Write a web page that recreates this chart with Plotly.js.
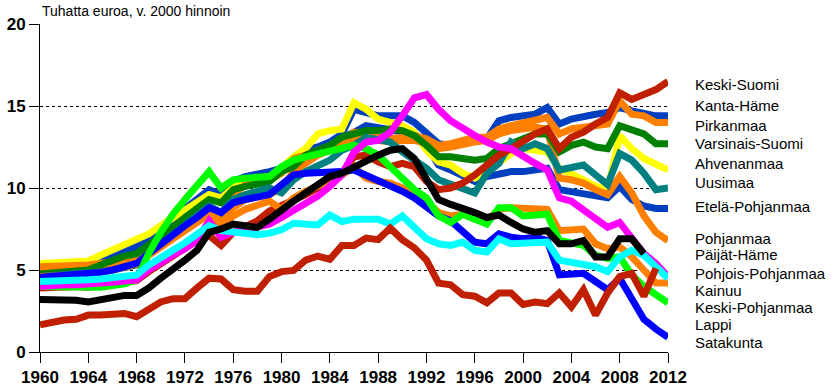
<!DOCTYPE html>
<html>
<head>
<meta charset="utf-8">
<script src="https://cdn.plot.ly/plotly-3.0.1.min.js"></script>
<style>html,body{margin:0;padding:0;background:#fff;}#chart{width:840px;height:388px;}</style>
</head>
<body>
<div id="chart"></div>
<script>
const years = [1960,1961,1962,1963,1964,1965,1966,1967,1968,1969,1970,1971,1972,1973,1974,1975,1976,1977,1978,1979,1980,1981,1982,1983,1984,1985,1986,1987,1988,1989,1990,1991,1992,1993,1994,1995,1996,1997,1998,1999,2000,2001,2002,2003,2004,2005,2006,2007,2008,2009,2010,2011,2012];

const kantaHame = [4.95,5.0,5.05,5.1,5.2,5.5,5.8,6.1,6.5,7.0, 7.6,8.1,8.7,9.3,9.9,9.6,10.4,10.7,10.8,11.0, 11.2,11.8,12.3,12.5,12.8,13.3,14.8,14.6,14.4,14.4, 14.4,14.0,13.3,12.7,12.6,12.8,12.9,13.0,14.1,14.3, 14.4,14.5,14.9,13.9,14.2,14.4,14.5,14.6,14.9,14.7, 14.5,14.4,14.4];
const etelaPohjanmaa = [4.85,4.9,4.95,5.0,5.1,5.4,5.7,6.0,6.4,6.9, 7.5,8.0,8.6,9.2,9.8,9.5,10.3,10.6,10.7,10.9, 11.1,11.6,12.2,12.4,12.7,13.1,13.4,13.8,13.7,13.6, 13.4,13.3,12.6,11.4,11.1,10.8,10.4,10.7,10.9,11.0, 11.0,11.1,11.2,9.9,9.8,9.7,9.5,9.4,10.1,9.3, 8.9,8.75,8.75];
const ahvenanmaa = [5.4,5.45,5.5,5.5,5.55,5.9,6.2,6.5,6.8,7.2, 7.7,8.2,8.6,9.1,9.6,9.4,10.0,10.4,10.6,10.7, 11.2,11.9,12.4,13.3,13.5,13.6,15.2,14.8,14.2,14.0, 13.8,13.4,12.3,11.6,11.4,10.9,10.6,11.0,11.6,12.1, 12.4,12.3,12.2,11.2,10.9,10.5,10.1,9.9,13.2,12.4, 11.8,11.4,11.1];
const pohjanmaa = [5.0,5.0,5.05,5.1,5.1,5.25,5.4,5.5,5.6,6.2, 6.8,7.3,7.8,8.2,8.6,8.0,8.8,9.3,9.5,9.6, 10.0,11.0,11.5,12.0,12.3,12.6,13.1,13.0,12.9,12.8, 12.9,12.9,12.7,12.4,12.5,12.7,12.8,12.9,13.3,13.5, 13.6,13.7,13.6,10.6,10.5,10.3,9.9,9.6,10.7,9.7, 8.3,7.3,6.8];
const pirkanmaa = [5.2,5.2,5.25,5.3,5.3,5.4,5.5,5.6,5.7,6.3, 6.9,7.4,7.9,8.4,8.8,8.2,9.6,10.2,10.3,10.5, 10.9,11.8,12.0,12.3,12.6,12.9,13.4,13.3,13.1,13.0, 13.1,13.2,13.0,12.6,12.7,12.9,13.1,13.1,13.6,13.8, 14.0,14.1,14.3,13.3,13.6,13.7,13.8,13.9,15.3,14.5, 14.4,14.0,14.0];
const varsinaisSuomi = [4.75,4.8,4.85,4.9,5.0,5.3,5.6,5.85,6.0,6.5, 7.0,7.6,8.2,8.8,9.3,9.1,9.9,10.1,10.2,10.4, 11.0,11.3,12.0,12.3,12.6,13.1,13.3,13.5,13.5,13.6, 13.5,13.2,12.6,11.9,11.9,11.8,11.7,11.8,12.4,12.7, 13.0,13.3,13.3,12.2,12.6,12.8,12.5,12.4,13.8,13.5, 13.3,12.7,12.7];
const uusimaa = [4.6,4.65,4.7,4.7,4.75,4.9,5.0,5.1,5.3,6.0, 6.6,7.1,7.7,8.4,8.9,8.5,9.3,9.6,9.8,10.0, 9.7,10.5,11.0,11.4,11.7,12.3,12.6,13.1,13.0,12.8, 12.2,11.7,11.2,10.5,10.2,10.0,9.7,10.9,11.5,12.8, 12.4,12.7,12.4,11.1,11.3,11.4,10.8,10.2,12.1,11.7, 10.9,9.9,10.0];
const keskiSuomi = [3.9,3.95,4.0,4.0,3.95,4.05,4.15,4.25,4.35,4.9, 5.4,5.8,6.3,6.8,7.1,6.5,7.3,7.7,8.0,8.6, 8.9,9.2,9.6,10.0,10.5,10.9,11.9,12.0,11.6,11.3, 11.5,11.3,10.4,9.9,10.0,10.3,10.8,11.4,12.0,12.4, 12.9,13.3,13.6,12.4,13.1,13.4,13.9,14.3,15.8,15.4, 15.7,16.0,16.5];
const kainuu = [4.6,4.6,4.65,4.7,4.7,4.85,5.0,5.2,5.35,5.9, 6.4,6.9,7.4,7.9,8.4,7.7,8.3,8.7,9.0,9.2, 8.7,9.4,9.8,10.1,10.4,10.8,11.3,10.6,10.4,10.3, 10.0,9.6,9.2,8.5,8.3,8.4,8.1,8.0,8.7,8.8, 8.8,8.8,8.7,7.4,7.4,7.5,6.6,6.3,6.4,5.8, 5.0,4.2,4.2];
const lappi = [4.55,4.6,4.6,4.65,4.7,4.85,5.0,5.2,5.4,6.0, 6.6,7.2,7.7,8.2,8.8,8.5,9.1,9.3,9.4,9.6, 10.2,10.8,10.9,10.9,11.0,11.0,11.1,10.8,10.5,10.2, 9.8,9.4,8.9,8.3,8.0,7.4,6.7,6.6,7.2,7.0, 6.9,7.0,6.8,4.7,4.8,4.8,4.3,3.8,4.5,3.2, 2.0,1.4,0.9];
const keskiPohjanmaa = [4.0,4.0,4.0,3.95,3.9,3.95,4.05,4.15,4.4,6.0, 7.3,8.4,9.3,10.2,11.0,10.0,10.5,10.6,10.6,10.7, 11.3,11.7,11.9,12.1,12.2,12.5,12.6,12.4,12.0,11.3, 10.6,9.9,9.4,8.3,7.9,8.4,8.1,7.8,8.8,8.8, 8.3,8.3,8.4,6.8,6.7,6.5,5.9,5.7,5.8,4.7, 4.0,3.5,3.0];
const paijatHame = [4.0,4.1,4.1,4.1,4.1,4.2,4.25,4.35,4.4,5.0, 5.5,5.9,6.3,6.8,8.0,7.0,7.3,7.5,7.6,7.8, 8.2,8.6,9.1,9.5,10.1,10.8,12.2,12.8,12.9,13.4, 14.4,15.5,15.7,14.8,14.1,13.6,13.2,12.8,12.5,12.4, 11.9,11.5,11.1,9.4,9.2,8.7,8.2,7.6,7.9,7.0, 6.0,5.4,4.6];
const pohjoisPohjanmaa = [4.3,4.3,4.35,4.35,4.4,4.45,4.55,4.65,4.7,5.3, 5.8,6.2,6.65,7.2,7.7,7.4,7.3,7.3,7.15,7.25, 7.45,7.85,7.75,7.75,8.35,7.95,8.1,8.1,8.1,7.8, 8.3,7.6,6.9,6.6,6.5,6.7,6.2,6.1,6.9,6.6, 6.6,6.7,6.7,5.6,5.5,5.4,5.2,4.9,5.8,6.2, 5.9,5.2,4.5];
const kokoMaa = [3.2,3.2,3.2,3.15,3.05,3.2,3.3,3.45,3.45,3.9, 4.5,5.0,5.6,6.2,7.3,7.5,7.8,7.7,7.6,8.1, 8.7,9.2,9.7,10.2,10.7,10.9,11.3,11.7,12.0,12.3, 12.4,11.8,10.6,9.3,9.0,8.8,8.5,8.2,8.35,7.9, 7.5,7.3,7.4,6.6,6.6,6.8,5.8,5.8,6.9,6.9, 6.0,null,null];
const satakunta = [1.65,1.85,1.95,2.0,2.25,2.25,2.25,2.35,2.15,2.65, 3.05,3.25,3.25,3.9,4.5,4.45,3.8,3.7,3.7,4.6, 4.9,4.97,5.6,5.85,5.65,6.5,6.5,6.95,6.85,7.55, 6.85,6.35,5.6,4.2,4.1,3.5,3.4,3.0,3.6,3.6, 2.9,3.05,2.95,3.6,2.75,3.8,2.25,3.6,4.6,4.8, 3.4,5.1,null];

const labelNames = ["Keski-Suomi","Kanta-Häme","Pirkanmaa","Varsinais-Suomi","Ahvenanmaa","Uusimaa","Etelä-Pohjanmaa","Pohjanmaa","Päijät-Häme","Pohjois-Pohjanmaa","Kainuu","Keski-Pohjanmaa","Lappi","Satakunta"];
const tickYears = [1960,1964,1968,1972,1976,1980,1984,1988,1992,1996,2000,2004,2008,2012];
const unitTitle = "Tuhatta euroa, v. 2000 hinnoin";

// drawing order (bottom first), colours are styling
const seriesList = [
  ["Kanta-Häme", kantaHame, "#0040C0"],
  ["Etelä-Pohjanmaa", etelaPohjanmaa, "#0040C0"],
  ["Ahvenanmaa", ahvenanmaa, "#FFFF00"],
  ["Pohjanmaa", pohjanmaa, "#FF8000"],
  ["Pirkanmaa", pirkanmaa, "#FF8000"],
  ["Varsinais-Suomi", varsinaisSuomi, "#008000"],
  ["Uusimaa", uusimaa, "#008080"],
  ["Keski-Suomi", keskiSuomi, "#C02000"],
  ["Kainuu", kainuu, "#FF8000"],
  ["Lappi", lappi, "#0000FF"],
  ["Keski-Pohjanmaa", keskiPohjanmaa, "#00FF00"],
  ["Päijät-Häme", paijatHame, "#FF00FF"],
  ["Pohjois-Pohjanmaa", pohjoisPohjanmaa, "#00FFFF"],
  ["Koko maa", kokoMaa, "#000000"],
  ["Satakunta", satakunta, "#C02000"]
];

const traces = seriesList.map(s => ({
  type: 'scatter', mode: 'lines', name: s[0], x: years, y: s[1],
  line: {color: s[2], width: 7}, hoverinfo: 'skip', showlegend: false
}));

// label layout (pixel rows in the 388px picture)
const labelRows = [84,105,125,143,163,182,207,238,254,273,290,307,324,342];
const plotTop = 24, plotBottom = 352;
const annotations = labelNames.map((t, i) => ({
  text: t, xref: 'paper', yref: 'paper', x: 1, xshift: 25, xanchor: 'left',
  y: (plotBottom - labelRows[i]) / (plotBottom - plotTop), yanchor: 'middle',
  showarrow: false, font: {family: 'Liberation Sans, Arial, sans-serif', size: 15, color: '#000'}
}));
annotations.push({
  text: unitTitle, xref: 'paper', yref: 'paper', x: 0, xanchor: 'left', y: 1, yanchor: 'bottom', yshift: 3,
  showarrow: false, font: {family: 'Liberation Sans, Arial, sans-serif', size: 14, color: '#000'}
});

const layout = {
  width: 840, height: 388,
  margin: {l: 40, r: 172, t: 24, b: 36, pad: 0},
  paper_bgcolor: '#fff', plot_bgcolor: '#fff',
  xaxis: {
    range: [1960, 2012], tickmode: 'array', tickvals: tickYears, ticktext: tickYears.map(String),
    showgrid: false, zeroline: false, showline: true, linecolor: '#000', linewidth: 1,
    ticks: 'outside', ticklen: 10, tickcolor: '#000', tickwidth: 1,
    tickfont: {family: 'Liberation Sans, Arial, sans-serif', size: 17, color: '#000', weight: 'bold'}
  },
  yaxis: {
    range: [0, 20], tickvals: [0,5,10,15,20],
    showgrid: true, gridcolor: '#000', gridwidth: 1, griddash: '3px,3px',
    zeroline: false, showline: true, linecolor: '#000', linewidth: 1,
    ticks: 'outside', ticklen: 10, tickcolor: '#000', tickwidth: 1,
    tickfont: {family: 'Liberation Sans, Arial, sans-serif', size: 17, color: '#000', weight: 'bold'}
  },
  annotations: annotations
};

Plotly.newPlot('chart', traces, layout, {displayModeBar: false, staticPlot: true});
</script>
</body>
</html>
